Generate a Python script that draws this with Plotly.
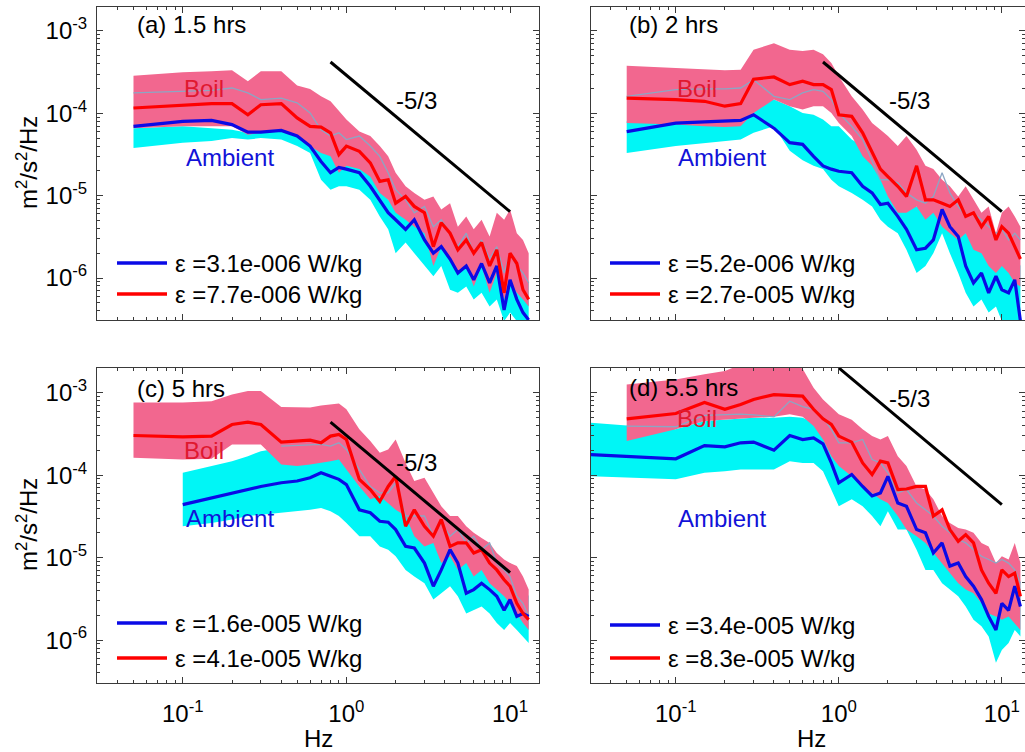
import plotly.graph_objects as go

# ---------------- data ----------------
F = [0.05, 0.1, 0.15, 0.2, 0.25, 0.3, 0.4, 0.5, 0.6, 0.7, 0.8, 0.9, 1.0, 1.2, 1.4, 1.6, 1.8,
     2.0, 2.3, 2.6, 3.0, 3.4, 3.8, 4.3, 4.8, 5.4, 6.0, 6.7, 7.5, 8.3, 9.2, 10, 11, 12, 13]
F_amb_c = F[1:]            # ambient record of panel (c) starts at 0.1 Hz
F_thin_c = F[6:]           # thin trace of panel (c) starts at 0.4 Hz
F_amb_d = [0.03] + F[1:]   # ambient record of panel (d) starts left of the axis

# panel (a) 1.5 hrs
a_red = [1.16e-4, 1.24e-4, 1.31e-4, 1.31e-4, 9.6e-5, 1.27e-4, 1.31e-4, 8.8e-5, 6.95e-5, 6.8e-5, 5.8e-5,
         3.15e-5, 4.0e-5, 3.45e-5, 2.5e-5, 1.49e-5, 1.56e-5, 8.1e-6, 9.8e-6, 7.4e-6, 6.2e-6, 2.4e-6,
         4.7e-6, 3.5e-6, 2.2e-6, 2.9e-6, 2.0e-6, 2.7e-6, 1.4e-6, 2.2e-6, 6.6e-7, 2.0e-6, 1.5e-6, 7.2e-7, 5.5e-7]
a_blue = [6.95e-5, 8.0e-5, 8.2e-5, 7.3e-5, 5.9e-5, 5.9e-5, 6.2e-5, 5.3e-5, 4.0e-5, 2.6e-5, 1.9e-5,
          2.2e-5, 2.1e-5, 1.9e-5, 1.3e-5, 8.9e-6, 6.2e-6, 5.1e-6, 3.9e-6, 5.1e-6, 2.9e-6, 2.0e-6,
          2.4e-6, 1.7e-6, 1.15e-6, 1.4e-6, 9.5e-7, 1.5e-6, 8.7e-7, 1.4e-6, 4.1e-7, 9.5e-7, 5.5e-7, 3.8e-7, 3.1e-7]
a_thin = [1.77e-4, 1.85e-4, 1.9e-4, 2.03e-4, 1.77e-4, 1.47e-4, 1.53e-4, 1.34e-4, 1.01e-4, 6.3e-5, 5.3e-5,
          5.8e-5, 4.8e-5, 5.3e-5, 4.0e-5, 3.0e-5, 1.9e-5, 1.18e-5, 8.9e-6, 6.2e-6, 7.4e-6, 4.2e-6,
          5.1e-6, 3.5e-6, 2.4e-6, 3.5e-6, 2.0e-6, 2.9e-6, 1.7e-6, 2.4e-6, 1.15e-6, 2.0e-6, 1.4e-6, 1.15e-6, 8.7e-7]
a_pink_hi = [2.86e-4, 3.15e-4, 3.24e-4, 3.33e-4, 2.45e-4, 3.24e-4, 3.24e-4, 2.17e-4, 1.98e-4, 1.61e-4, 1.40e-4,
             1.06e-4, 8.4e-5, 6.0e-5, 5.3e-5, 4.0e-5, 3.0e-5, 1.9e-5, 1.3e-5, 1.08e-5, 8.9e-6, 9.8e-6,
             6.8e-6, 8.1e-6, 4.2e-6, 5.6e-6, 3.9e-6, 5.1e-6, 3.2e-6, 6.2e-6, 5.1e-6, 6.8e-6, 3.5e-6, 2.9e-6, 2.0e-6]
a_pink_lo = [6.6e-5, 6.95e-5, 6.95e-5, 6.95e-5, 5.5e-5, 5.8e-5, 6.0e-5, 5.3e-5, 4.0e-5, 3.3e-5, 3.0e-5,
             1.9e-5, 2.3e-5, 2.1e-5, 1.7e-5, 1.08e-5, 8.9e-6, 6.2e-6, 5.1e-6, 4.2e-6, 3.5e-6, 1.4e-6,
             2.4e-6, 1.7e-6, 1.15e-6, 1.4e-6, 7.9e-7, 1.4e-6, 6.6e-7, 1.15e-6, 5.5e-7, 8.7e-7, 6.6e-7, 5.5e-7, 4.5e-7]
a_cyan_hi = [6.6e-5, 6.95e-5, 6.6e-5, 6.3e-5, 5.8e-5, 6.3e-5, 6.6e-5, 5.8e-5, 4.8e-5, 4.0e-5, 3.3e-5,
             3.3e-5, 3.3e-5, 2.7e-5, 1.9e-5, 1.3e-5, 8.9e-6, 7.4e-6, 6.2e-6, 8.1e-6, 5.6e-6, 4.2e-6,
             5.1e-6, 3.5e-6, 2.9e-6, 3.9e-6, 2.4e-6, 3.9e-6, 2.0e-6, 3.5e-6, 1.4e-6, 2.0e-6, 1.4e-6, 1.15e-6, 8.7e-7]
a_cyan_lo = [3.8e-5, 4.4e-5, 4.6e-5, 5.0e-5, 4.8e-5, 5.0e-5, 4.8e-5, 4.0e-5, 3.3e-5, 1.56e-5, 1.18e-5,
             1.3e-5, 1.3e-5, 1.18e-5, 8.9e-6, 5.6e-6, 3.9e-6, 2.0e-6, 2.7e-6, 2.0e-6, 1.4e-6, 1.05e-6,
             1.4e-6, 7.2e-7, 6.6e-7, 7.9e-7, 5.5e-7, 6.6e-7, 4.5e-7, 5.5e-7, 3.0e-7, 3.8e-7, 3.0e-7, 3.0e-7, 3.0e-7]

# panel (b) 2 hrs
b_red = [1.53e-4, 1.47e-4, 1.40e-4, 1.22e-4, 1.31e-4, 2.6e-4, 2.76e-4, 2.23e-4, 2.45e-4, 2.23e-4, 2.23e-4,
         1.94e-4, 9.6e-5, 9.2e-5, 5.8e-5, 3.3e-5, 2.1e-5, 1.7e-5, 1.3e-5, 9.8e-6, 2.3e-5, 8.9e-6,
         8.9e-6, 8.1e-6, 7.4e-6, 8.9e-6, 5.6e-6, 6.2e-6, 4.2e-6, 5.6e-6, 2.9e-6, 4.2e-6, 3.5e-6, 2.4e-6, 1.7e-6]
b_blue = [6.0e-5, 7.6e-5, 7.85e-5, 8.0e-5, 8.2e-5, 9.6e-5, 6.6e-5, 4.4e-5, 4.2e-5, 3.0e-5, 2.3e-5,
          2.1e-5, 1.98e-5, 1.9e-5, 1.3e-5, 1.08e-5, 7.8e-6, 8.1e-6, 5.6e-6, 3.9e-6, 2.2e-6, 2.3e-6,
          2.9e-6, 6.8e-6, 4.2e-6, 3.2e-6, 1.4e-6, 8.7e-7, 1.15e-6, 6.6e-7, 1.05e-6, 7.2e-7, 6.6e-7, 9.5e-7, 3.0e-7]
b_thin = [1.61e-4, 1.94e-4, 1.98e-4, 1.98e-4, 2.03e-4, 2.56e-4, 1.61e-4, 1.47e-4, 1.77e-4, 1.94e-4, 1.85e-4,
          1.47e-4, 1.01e-4, 6.95e-5, 4.8e-5, 2.7e-5, 1.56e-5, 1.56e-5, 1.43e-5, 1.08e-5, 8.9e-6, 8.1e-6,
          9.8e-6, 1.9e-5, 1.08e-5, 7.4e-6, 5.6e-6, 6.2e-6, 5.1e-6, 4.2e-6, 3.5e-6, 3.9e-6, 2.9e-6, 3.5e-6, 2.9e-6]
b_pink_hi = [3.79e-4, 3.56e-4, 3.39e-4, 3.33e-4, 3.39e-4, 5.9e-4, 7.1e-4, 5.9e-4, 5.7e-4, 5.9e-4, 5.2e-4,
             4.08e-4, 2.81e-4, 1.61e-4, 1.11e-4, 7.6e-5, 6.3e-5, 5.3e-5, 4.0e-5, 5.3e-5, 3.6e-5, 2.3e-5,
             2.1e-5, 1.56e-5, 1.3e-5, 9.8e-6, 1.3e-5, 8.9e-6, 6.2e-6, 7.4e-6, 3.5e-6, 6.2e-6, 7.4e-6, 5.6e-6, 4.2e-6]
b_pink_lo = [7.6e-5, 7.3e-5, 6.95e-5, 6.8e-5, 6.95e-5, 1.01e-4, 1.47e-4, 1.22e-4, 1.11e-4, 1.22e-4, 1.22e-4,
             1.01e-4, 7.6e-5, 5.3e-5, 3.0e-5, 2.3e-5, 1.56e-5, 9.8e-6, 6.2e-6, 6.2e-6, 7.4e-6, 5.1e-6,
             6.2e-6, 4.2e-6, 3.5e-6, 2.9e-6, 3.5e-6, 2.2e-6, 2.0e-6, 1.4e-6, 1.15e-6, 1.4e-6, 1.15e-6, 8.7e-7, 7.9e-7]
b_cyan_hi = [8.0e-5, 8.4e-5, 8.5e-5, 8.5e-5, 8.8e-5, 1.22e-4, 1.47e-4, 1.22e-4, 1.01e-4, 9.6e-5, 8.4e-5,
             6.95e-5, 6.95e-5, 4.8e-5, 4.0e-5, 3.0e-5, 2.3e-5, 1.9e-5, 1.3e-5, 8.1e-6, 7.4e-6, 6.8e-6,
             1.08e-5, 1.43e-5, 8.9e-6, 5.1e-6, 3.5e-6, 2.9e-6, 3.5e-6, 2.4e-6, 2.9e-6, 3.5e-6, 2.9e-6, 2.4e-6, 1.4e-6]
b_cyan_lo = [3.3e-5, 4.0e-5, 4.4e-5, 4.6e-5, 4.8e-5, 5.8e-5, 6.95e-5, 3.5e-5, 2.7e-5, 2.3e-5, 2.1e-5,
             1.56e-5, 1.3e-5, 1.08e-5, 8.9e-6, 7.4e-6, 5.1e-6, 4.2e-6, 3.5e-6, 2.2e-6, 1.15e-6, 1.4e-6,
             2.0e-6, 3.5e-6, 2.0e-6, 1.15e-6, 6.6e-7, 4.5e-7, 5.5e-7, 3.8e-7, 4.5e-7, 3.0e-7, 3.0e-7, 3.0e-7, 3.0e-7]

# panel (c) 5 hrs
c_red = [3.03e-4, 2.92e-4, 2.98e-4, 4.12e-4, 4.4e-4, 4.12e-4, 2.52e-4, 2.59e-4, 2.66e-4, 2.47e-4, 2.98e-4,
         3.12e-4, 2.71e-4, 8.9e-5, 6.7e-5, 4.8e-5, 7.3e-5, 9.7e-5, 2.4e-5, 3.8e-5, 2.4e-5, 1.82e-5,
         2.9e-5, 1.37e-5, 1.51e-5, 1.51e-5, 1.14e-5, 1.25e-5, 8.6e-6, 7.1e-6, 5.4e-6, 4.5e-6, 2.8e-6, 2.1e-6, 1.77e-6]
c_blue = [4.4e-5, 5.3e-5, 6.1e-5, 6.7e-5, 7.3e-5, 8.1e-5, 8.5e-5, 9.3e-5, 1.07e-4, 9.7e-5, 8.9e-5,
          7.7e-5, 3.8e-5, 3.5e-5, 2.76e-5, 2.69e-5, 2.19e-5, 1.37e-5, 1.31e-5, 8.6e-6, 4.5e-6, 7.1e-6,
          1.25e-5, 8.6e-6, 3.7e-6, 4.1e-6, 4.9e-6, 4.1e-6, 3.4e-6, 2.3e-6, 3.1e-6, 1.94e-6, 2.1e-6, 1.94e-6]
c_thin = [2.25e-4, 2.29e-4, 2.36e-4, 2.36e-4, 2.25e-4, 2.47e-4, 2.05e-4, 1.17e-4, 7.3e-5, 6.1e-5, 6.1e-5,
          8.1e-5, 3.2e-5, 3.2e-5, 3.2e-5, 1.82e-5, 2.64e-5, 1.82e-5, 2.19e-5, 1.51e-5, 1.82e-5, 1.25e-5,
          1.51e-5, 8.6e-6, 7.1e-6, 5.9e-6, 3.4e-6, 2.8e-6, 1.94e-6]
c_pink_hi = [7.6e-4, 7.6e-4, 7.9e-4, 9.5e-4, 1.05e-3, 1.05e-3, 6.7e-4, 6.6e-4, 6.6e-4, 7.0e-4, 7.2e-4,
             7.4e-4, 6.3e-4, 3.6e-4, 2.59e-4, 1.87e-4, 2.05e-4, 2.71e-4, 1.41e-4, 8.5e-5, 9.3e-5, 6.1e-5,
             4.2e-5, 3.2e-5, 3.2e-5, 2.4e-5, 2.0e-5, 1.73e-5, 1.51e-5, 1.14e-5, 9.5e-6, 8.6e-6, 7.9e-6, 5.9e-6, 4.1e-6]
c_pink_lo = [1.63e-4, 1.55e-4, 1.58e-4, 2.36e-4, 2.36e-4, 2.36e-4, 1.35e-4, 1.29e-4, 1.35e-4, 1.41e-4, 1.48e-4,
             1.55e-4, 1.17e-4, 7.3e-5, 5.1e-5, 5.6e-5, 4.6e-5, 3.8e-5, 3.2e-5, 1.82e-5, 1.37e-5, 1.51e-5,
             8.6e-6, 1.04e-5, 7.1e-6, 8.6e-6, 5.9e-6, 7.1e-6, 4.9e-6, 4.1e-6, 3.4e-6, 2.8e-6, 2.1e-6, 1.61e-6, 1.33e-6]
c_cyan_hi = [1.07e-4, 1.29e-4, 1.48e-4, 1.70e-4, 1.95e-4, 2.15e-4, 2.25e-4, 2.36e-4, 2.47e-4, 2.25e-4, 2.05e-4,
             1.70e-4, 7.3e-5, 7.3e-5, 5.6e-5, 5.1e-5, 4.6e-5, 3.2e-5, 2.64e-5, 2.19e-5, 1.51e-5, 1.82e-5,
             2.19e-5, 1.82e-5, 1.04e-5, 1.04e-5, 1.25e-5, 1.04e-5, 8.6e-6, 7.1e-6, 8.6e-6, 7.1e-6, 4.9e-6, 3.4e-6]
c_cyan_lo = [2.4e-5, 2.64e-5, 2.9e-5, 3.2e-5, 3.33e-5, 3.5e-5, 3.66e-5, 3.8e-5, 4.0e-5, 3.66e-5, 3.2e-5,
             2.64e-5, 1.82e-5, 1.82e-5, 1.37e-5, 1.25e-5, 1.04e-5, 7.1e-6, 5.9e-6, 4.9e-6, 3.1e-6, 3.7e-6,
             4.5e-6, 3.4e-6, 2.1e-6, 2.3e-6, 2.56e-6, 2.1e-6, 1.61e-6, 1.33e-6, 1.61e-6, 1.33e-6, 1.11e-6, 9.2e-7]

# panel (d) 5.5 hrs
d_red = [4.83e-4, 5.6e-4, 7.6e-4, 6.3e-4, 7.2e-4, 8.3e-4, 9.5e-4, 9.3e-4, 9.1e-4, 6.3e-4, 4.83e-4,
         4.12e-4, 2.98e-4, 2.52e-4, 1.41e-4, 1.02e-4, 1.48e-4, 1.41e-4, 6.7e-5, 6.8e-5, 7.3e-5, 7.3e-5,
         3.2e-5, 3.8e-5, 2.19e-5, 1.58e-5, 1.9e-5, 1.51e-5, 7.1e-6, 4.9e-6, 3.7e-6, 7.1e-6, 5.9e-6, 6.5e-6, 3.4e-6]
d_blue = [1.78e-4, 1.58e-4, 2.29e-4, 2.21e-4, 2.47e-4, 2.52e-4, 2.01e-4, 3.03e-4, 2.71e-4, 2.84e-4, 2.4e-4,
          1.41e-4, 8.1e-5, 1.02e-4, 7.3e-5, 5.6e-5, 6.1e-5, 9.7e-5, 4.6e-5, 4.2e-5, 2.19e-5, 2.0e-5,
          1.14e-5, 1.51e-5, 7.9e-6, 8.6e-6, 5.9e-6, 4.5e-6, 3.1e-6, 1.94e-6, 1.33e-6, 2.8e-6, 2.3e-6, 4.5e-6, 2.56e-6]
d_thin = [3.94e-4, 3.87e-4, 5.3e-4, 5.4e-4, 5.5e-4, 5.4e-4, 5.1e-4, 7.9e-4, 6.8e-4, 6.3e-4, 4.97e-4,
          3.6e-4, 2.47e-4, 2.47e-4, 2.71e-4, 1.55e-4, 1.41e-4, 1.07e-4, 6.1e-5, 6.7e-5, 4.6e-5, 3.8e-5,
          3.2e-5, 2.4e-5, 2.0e-5, 1.66e-5, 1.51e-5, 1.25e-5, 1.04e-5, 9.5e-6, 8.6e-6, 9.5e-6, 8.6e-6, 7.1e-6, 4.9e-6]
d_pink_hi = [1.26e-3, 1.45e-3, 1.67e-3, 1.83e-3, 2.2e-3, 2.5e-3, 2.5e-3, 2.4e-3, 1.95e-3, 1.15e-3, 8.3e-4,
             6.6e-4, 5.5e-4, 4.7e-4, 3.6e-4, 2.98e-4, 2.71e-4, 2.98e-4, 1.70e-4, 1.29e-4, 7.3e-5, 6.7e-5,
             5.1e-5, 3.2e-5, 2.64e-5, 2.29e-5, 2.19e-5, 2.0e-5, 1.51e-5, 1.37e-5, 8.6e-6, 1.04e-5, 9.5e-6, 1.51e-5, 8.6e-6]
d_pink_lo = [2.59e-4, 3.6e-4, 4.53e-4, 4.7e-4, 4.83e-4, 4.97e-4, 5.1e-4, 5.5e-4, 5.1e-4, 3.94e-4, 2.71e-4,
             1.70e-4, 1.29e-4, 9.7e-5, 7.3e-5, 6.1e-5, 5.1e-5, 4.6e-5, 3.2e-5, 2.19e-5, 1.82e-5, 1.51e-5,
             1.14e-5, 8.6e-6, 6.5e-6, 4.9e-6, 4.1e-6, 3.7e-6, 2.8e-6, 2.1e-6, 1.94e-6, 1.77e-6, 1.94e-6, 1.61e-6, 1.33e-6]
d_cyan_hi = [4.32e-4, 3.6e-4, 4.53e-4, 4.7e-4, 4.83e-4, 4.97e-4, 4.97e-4, 5.1e-4, 4.97e-4, 4.32e-4, 3.6e-4,
             2.25e-4, 1.70e-4, 1.70e-4, 1.41e-4, 1.17e-4, 1.17e-4, 1.17e-4, 8.1e-5, 5.6e-5, 3.8e-5, 3.2e-5,
             2.19e-5, 2.19e-5, 1.51e-5, 1.25e-5, 1.04e-5, 8.6e-6, 7.1e-6, 5.9e-6, 4.9e-6, 7.1e-6, 7.1e-6, 8.6e-6, 4.9e-6]
d_cyan_lo = [9.7e-5, 8.9e-5, 1.07e-4, 1.12e-4, 1.17e-4, 1.17e-4, 1.17e-4, 1.48e-4, 1.41e-4, 1.41e-4, 1.12e-4,
             6.7e-5, 4.2e-5, 5.1e-5, 4.2e-5, 3.2e-5, 2.4e-5, 3.66e-5, 2.19e-5, 2.19e-5, 1.25e-5, 7.1e-6,
             7.1e-6, 4.9e-6, 4.1e-6, 3.4e-6, 2.56e-6, 1.77e-6, 1.47e-6, 1.11e-6, 5.3e-7, 7.6e-7, 9.2e-7, 1.33e-6, 1.11e-6]

# -5/3 reference lines
slope_f_abc = [0.8, 10]
slope_a = [4.2e-4, 6.4e-6]
slope_b = [4.2e-4, 6.4e-6]
slope_c = [4.4e-4, 6.6e-6]
slope_f_d = [1.0, 10]
slope_d = [2.0e-3, 4.4e-5]

panel_titles = ["(a) 1.5 hrs", "(b) 2 hrs", "(c) 5 hrs", "(d) 5.5 hrs"]
eps_ambient = ["3.1e-006", "5.2e-006", "1.6e-005", "3.4e-005"]
eps_boil = ["7.7e-006", "2.7e-005", "4.1e-005", "8.3e-005"]

x_tickvals = [0.1, 1, 10]
x_ticktext = ["10<sup>-1</sup>", "10<sup>0</sup>", "10<sup>1</sup>"]
y_tickvals = [1e-6, 1e-5, 1e-4, 1e-3]
y_ticktext = ["10<sup>-6</sup>", "10<sup>-5</sup>", "10<sup>-4</sup>", "10<sup>-3</sup>"]

# ---------------- styling ----------------
W, H = 1025, 752
FONT = "Liberation Sans, Arial, sans-serif"
PINK = "#F2678F"
CYAN = "#00F6F6"
RED = "#FF0000"
BLUE = "#0A0AE6"
THIN = "#8CA6C4"
AXC = "#3a3a3a"
FS = 24

def px(x):
    return x / W

def py(y):
    return 1 - y / H

panels = [
    dict(ax="", f_b=F, f_a=F, f_t=F, red=a_red, blue=a_blue, thin=a_thin, phi=a_pink_hi, plo=a_pink_lo,
         chi=a_cyan_hi, clo=a_cyan_lo, sf=slope_f_abc, sy=slope_a),
    dict(ax="2", f_b=F, f_a=F, f_t=F, red=b_red, blue=b_blue, thin=b_thin, phi=b_pink_hi, plo=b_pink_lo,
         chi=b_cyan_hi, clo=b_cyan_lo, sf=slope_f_abc, sy=slope_b),
    dict(ax="3", f_b=F, f_a=F_amb_c, f_t=F_thin_c, red=c_red, blue=c_blue, thin=c_thin, phi=c_pink_hi,
         plo=c_pink_lo, chi=c_cyan_hi, clo=c_cyan_lo, sf=slope_f_abc, sy=slope_c),
    dict(ax="4", f_b=F, f_a=F_amb_d, f_t=F, red=d_red, blue=d_blue, thin=d_thin, phi=d_pink_hi, plo=d_pink_lo,
         chi=d_cyan_hi, clo=d_cyan_lo, sf=slope_f_d, sy=slope_d),
]

fig = go.Figure()
for p in panels:
    xa, ya = "x" + p["ax"], "y" + p["ax"]
    common = dict(xaxis=xa, yaxis=ya, showlegend=False, hoverinfo="skip", mode="lines")
    fig.add_trace(go.Scatter(x=p["f_a"] + p["f_a"][::-1], y=p["chi"] + p["clo"][::-1], fill="toself",
                             fillcolor=CYAN, line=dict(width=0, color=CYAN), **common))
    fig.add_trace(go.Scatter(x=p["f_b"] + p["f_b"][::-1], y=p["phi"] + p["plo"][::-1], fill="toself",
                             fillcolor=PINK, line=dict(width=0, color=PINK), **common))
    fig.add_trace(go.Scatter(x=p["f_t"], y=p["thin"], line=dict(color=THIN, width=1.3), **common))
    fig.add_trace(go.Scatter(x=p["f_a"], y=p["blue"], line=dict(color=BLUE, width=3.2), **common))
    fig.add_trace(go.Scatter(x=p["f_b"], y=p["red"], line=dict(color=RED, width=3.2), **common))
    fig.add_trace(go.Scatter(x=p["sf"], y=p["sy"], line=dict(color="black", width=3), **common))

# axis geometry (pixels of the 1025x752 page)
left_x = (97, 539)
right_x = (591, 1025)
top_y = (7, 320)
bot_y = (368, 683)
xr_left = [-1.524, 1.177]
xr_right = [-1.52, 1.142]
yr_top = [-6.51, -2.709]
yr_bot = [-6.52, -2.70]

minor_x = [m * 10.0 ** e for e in range(-2, 2) for m in range(2, 10)]
minor_y = [m * 10.0 ** e for e in range(-7, -2) for m in range(2, 10)]

def axis(domain, rng, labels, is_x):
    return dict(type="log", domain=domain, range=rng, showline=True, linecolor=AXC, linewidth=1,
                mirror="allticks", ticks="inside", ticklen=6, tickcolor=AXC, showgrid=False,
                zeroline=False, tickmode="array",
                tickvals=x_tickvals if is_x else y_tickvals,
                ticktext=x_ticktext if is_x else y_ticktext,
                showticklabels=labels, ticklabelstandoff=9 if is_x else 4,
                tickfont=dict(family=FONT, size=FS, color="black"),
                minor=dict(ticks="inside", ticklen=3, tickcolor=AXC, showgrid=False, tickmode="array",
                           tickvals=minor_x if is_x else minor_y))

geo = [(left_x, top_y, xr_left, yr_top, False, True),
       (right_x, top_y, xr_right, yr_top, False, False),
       (left_x, bot_y, xr_left, yr_bot, True, True),
       (right_x, bot_y, xr_right, yr_bot, True, False)]
layout_axes = {}
for i, (gx, gy, xr, yr, xl, yl) in enumerate(geo):
    k = "" if i == 0 else str(i + 1)
    xd = [px(gx[0]), px(gx[1])]
    yd = [py(gy[1]), py(gy[0])]
    xa = axis(xd, xr, xl, True)
    xa["anchor"] = "y" + k
    ya = axis(yd, yr, yl, False)
    ya["anchor"] = "x" + k
    layout_axes["xaxis" + k] = xa
    layout_axes["yaxis" + k] = ya

ann = []
shapes = []

def text(x, y, s, color="black", xanchor="center", size=FS, angle=0):
    ann.append(dict(x=px(x), y=py(y), xref="paper", yref="paper", text=s, showarrow=False,
                    xanchor=xanchor, yanchor="middle", textangle=angle,
                    font=dict(family=FONT, size=size, color=color)))

# per-panel labels: (title_left, title_y, boil_x, boil_y, amb_x, amb_y, slope_x, slope_y, leg_x0, leg_y1, leg_y2)
lab = [
    (135, 25, 204, 89, 230, 157, 416, 100, 117, 263, 294),
    (627, 25, 697, 89, 722, 157, 909, 100, 610, 263, 294),
    (135, 388, 204, 450, 230, 518, 416, 462, 117, 623, 658),
    (627, 387, 697, 418, 722, 518, 909, 398, 610, 625, 658),
]
for i, L in enumerate(lab):
    text(L[0], L[1], panel_titles[i], xanchor="left")
    text(L[2], L[3], "Boil", color="#E0182F")
    text(L[4], L[5], "Ambient", color="#1212D8")
    text(L[6], L[7], "-5/3")
    for yy, col, eps in ((L[9], BLUE, eps_ambient[i]), (L[10], RED, eps_boil[i])):
        shapes.append(dict(type="line", xref="paper", yref="paper", x0=px(L[8]), x1=px(L[8] + 50),
                           y0=py(yy), y1=py(yy), line=dict(color=col, width=3.5)))
        text(L[8] + 56, yy, "\u03b5 =" + eps + " W/kg", xanchor="left")

ytitle = "m<sup>2</sup>/s<sup>2</sup>/Hz"
text(27, 163, ytitle, angle=-90)
text(27, 525, ytitle, angle=-90)
text(318, 738, "Hz")
text(811, 738, "Hz")

fig.update_layout(width=W, height=H, margin=dict(l=0, r=0, t=0, b=0), paper_bgcolor="white",
                  plot_bgcolor="white", annotations=ann, shapes=shapes, showlegend=False,
                  font=dict(family=FONT, size=FS, color="black"), **layout_axes)

fig.write_html("out.html")
